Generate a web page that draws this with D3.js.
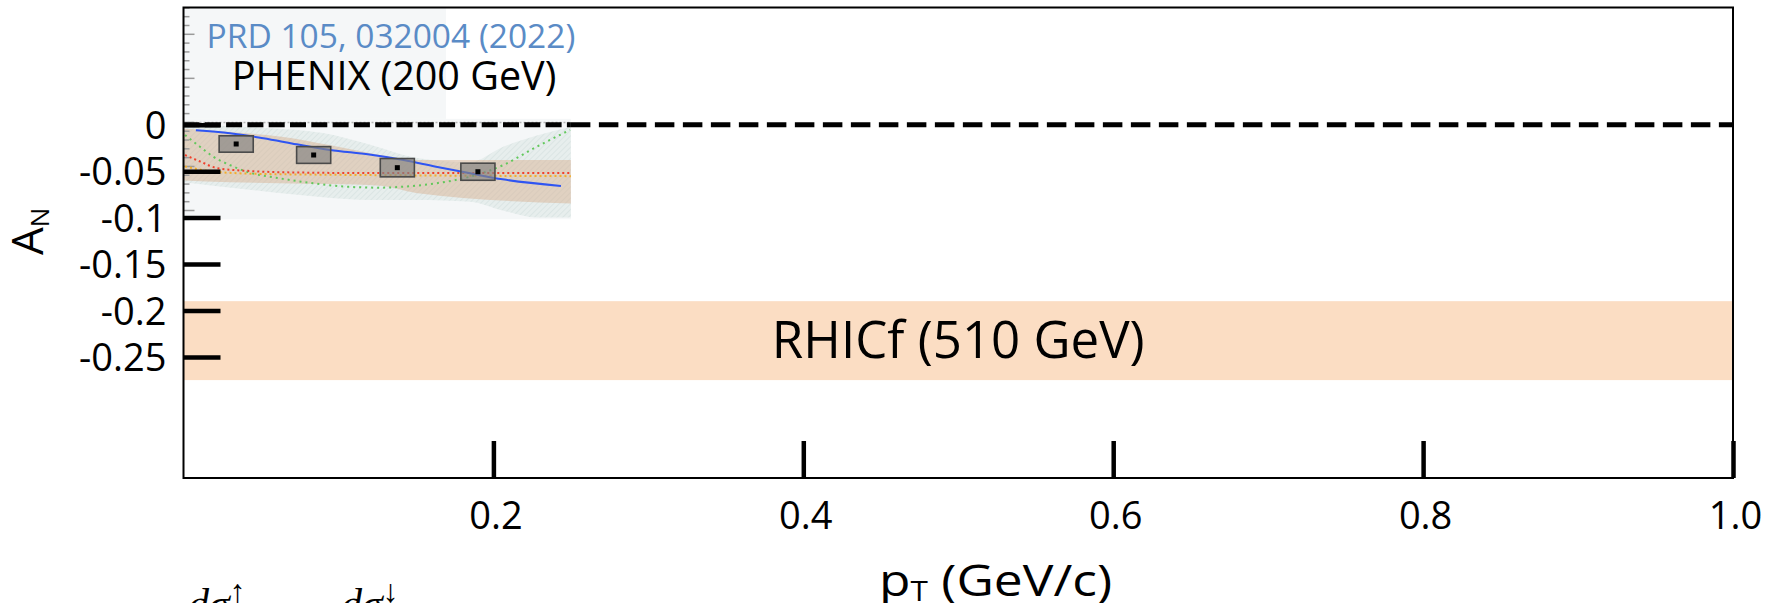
<!DOCTYPE html>
<html>
<head>
<meta charset="utf-8">
<script src="https://cdn.jsdelivr.net/npm/d3@7"></script>
<style>
  html, body { margin: 0; padding: 0; background: #fff; }
  svg { display: block; font-family: "Open Sans", "Noto Sans", sans-serif; }
</style>
</head>
<body>
<svg id="chart" width="1779" height="603"></svg>
<script>
// ---- axis ticks ----
const yTickValues = [0, -0.05, -0.1, -0.15, -0.2, -0.25];
const yTickLabels = ["0", "-0.05", "-0.1", "-0.15", "-0.2", "-0.25"];
const xTickValues = [0.2, 0.4, 0.6, 0.8, 1.0];
const xTickLabels = ["0.2", "0.4", "0.6", "0.8", "1.0"];

// ---- RHICf 510 GeV expected range ----
const rhicfLow = -0.275;
const rhicfHigh = -0.19;

// ---- PHENIX 200 GeV neutron A_N (PRD 105, 032004) ----
const phenixPt = [0.034, 0.084, 0.138, 0.190];
const phenixAN = [-0.0245, -0.037, -0.0514, -0.056];
const phenixSysPt = [0.011, 0.011, 0.011, 0.011];
const phenixSysAN = [0.0093, 0.0095, 0.0104, 0.0097];

// model curves
const blueCurvePt = [0.008, 0.030, 0.0515, 0.073, 0.0945, 0.120, 0.142, 0.163, 0.185, 0.206, 0.2436];
const blueCurveAN = [-0.009, -0.0124, -0.018, -0.0249, -0.0313, -0.0365, -0.0427, -0.0503, -0.0578, -0.0646, -0.0722];
const redCurvePt = [0.001, 0.011, 0.022, 0.043, 0.07, 0.12, 0.25];
const redCurveAN = [-0.037, -0.0446, -0.052, -0.0552, -0.0568, -0.0575, -0.0575];
const orangeCurvePt = [0.001, 0.02, 0.05, 0.1, 0.25];
const orangeCurveAN = [-0.05, -0.056, -0.0585, -0.0595, -0.061];
const greenCurvePt = [0.001, 0.0106, 0.0192, 0.030, 0.0408, 0.0623, 0.0838, 0.1053, 0.1268, 0.1419, 0.1634, 0.1849, 0.2064, 0.228, 0.2494];
const greenCurveAN = [-0.0143, -0.0276, -0.039, -0.0484, -0.056, -0.0635, -0.0691, -0.073, -0.0741, -0.073, -0.069, -0.0616, -0.0484, -0.0276, -0.0086];

// uncertainty bands
const tanBandPt = [0, 0.03, 0.062, 0.095, 0.127, 0.15, 0.25];
const tanBandHigh = [-0.007, -0.011, -0.016, -0.026, -0.037, -0.0427, -0.0427];
const tanBandLow = [-0.066, -0.068, -0.069, -0.070, -0.072, -0.080, -0.092];
const tealBandPt = [0, 0.05, 0.09, 0.12, 0.15, 0.185, 0.206, 0.228, 0.25];
const tealBandHigh = [-0.003, -0.006, -0.012, -0.025, -0.040, -0.045, -0.028, -0.015, -0.005];
const tealBandLow = [-0.068, -0.078, -0.085, -0.088, -0.088, -0.090, -0.100, -0.108, -0.108];

// ---- layout ----
const svg = d3.select("#chart");
const margin = { left: 183.5, top: 7.5, right: 46, bottom: 125 };
const W = 1779 - margin.left - margin.right;
const H = 603 - margin.top - margin.bottom;
const g = svg.append("g").attr("transform", `translate(${margin.left},${margin.top})`);

const x = d3.scaleLinear().domain([0, 1.0]).range([0, W]);
const y = d3.scaleLinear().domain([-0.3804, 0.1262]).range([H, 0]);
// the PHENIX panel carries its own vertical scale
const yIn = d3.scaleLinear().domain([-0.1, 0.1]).range([203, 26.8]);

// RHICf band
g.append("rect")
  .attr("x", x(0)).attr("width", x(1.0) - x(0))
  .attr("y", y(rhicfHigh)).attr("height", y(rhicfLow) - y(rhicfHigh))
  .attr("fill", "#fbddc3");
g.append("text")
  .attr("x", x(0.5)).attr("y", (y(rhicfHigh) + y(rhicfLow)) / 2)
  .attr("dy", "0.34em")
  .attr("text-anchor", "middle")
  .attr("font-size", 51)
  .attr("fill", "#000")
  .text("RHICf (510 GeV)");

// ---- PHENIX panel ----
const panel = g.append("g");
panel.append("rect")
  .attr("x", x(0)).attr("y", 0)
  .attr("width", x(0.1694) - x(0)).attr("height", yIn(0.004))
  .attr("fill", "#f5f7f8");
panel.append("rect")
  .attr("x", x(0)).attr("y", yIn(0.004))
  .attr("width", x(0.25) - x(0)).attr("height", yIn(-0.11) - yIn(0.004))
  .attr("fill", "#f5f7f8");

const defs = svg.append("defs");
const hatch = defs.append("pattern")
  .attr("id", "hatch").attr("patternUnits", "userSpaceOnUse")
  .attr("width", 4).attr("height", 4)
  .attr("patternTransform", "rotate(45)");
hatch.append("rect").attr("width", 4).attr("height", 4).attr("fill", "#e7eeed");
hatch.append("line").attr("x1", 0).attr("y1", 0).attr("x2", 0).attr("y2", 4)
  .attr("stroke", "#d8e2e1").attr("stroke-width", 1.5);

const bandArea = d3.area().curve(d3.curveMonotoneX)
  .x(d => x(d.pt)).y0(d => yIn(d.lo)).y1(d => yIn(d.hi));

panel.append("path")
  .datum(tealBandPt.map((pt, i) => ({ pt, hi: tealBandHigh[i], lo: tealBandLow[i] })))
  .attr("d", bandArea)
  .attr("fill", "url(#hatch)");
panel.append("path")
  .datum(tanBandPt.map((pt, i) => ({ pt, hi: tanBandHigh[i], lo: tanBandLow[i] })))
  .attr("d", bandArea)
  .attr("fill", "#d6ae8c").attr("fill-opacity", 0.45);

// inset vertical axis ticks (gray)
const insetTicks = d3.range(-11, 14).map(v => v / 100);
panel.selectAll("line.minor").data(insetTicks).join("line")
  .attr("class", "minor")
  .attr("x1", 0)
  .attr("x2", d => (Math.round(d * 100) % 5 === 0 ? 11 : 6))
  .attr("y1", d => yIn(d)).attr("y2", d => yIn(d))
  .attr("stroke", "#9a9a9a").attr("stroke-width", 1.5);

// inset zero line (gray dotted)
panel.append("line")
  .attr("x1", x(0)).attr("x2", x(0.25))
  .attr("y1", yIn(0)).attr("y2", yIn(0))
  .attr("stroke", "#b5b5b5").attr("stroke-width", 1.5)
  .attr("stroke-dasharray", "2,2");

const curve = d3.line().curve(d3.curveMonotoneX).x(d => x(d[0])).y(d => yIn(d[1]));
function drawCurve(pts, ans, color, dash, width) {
  panel.append("path")
    .datum(pts.map((p, i) => [p, ans[i]]))
    .attr("d", curve)
    .attr("fill", "none")
    .attr("stroke", color)
    .attr("stroke-width", width)
    .attr("stroke-dasharray", dash);
}
drawCurve(greenCurvePt, greenCurveAN, "#62c85c", "2,4", 2);
drawCurve(orangeCurvePt, orangeCurveAN, "#f3ae2a", "2,3", 2);
drawCurve(redCurvePt, redCurveAN, "#f0402c", "2,3", 2);
drawCurve(blueCurvePt, blueCurveAN, "#2f55f2", null, 2);

// systematic boxes and points
const pts = phenixPt.map((pt, i) => ({ pt, an: phenixAN[i], sx: phenixSysPt[i], sy: phenixSysAN[i] }));
panel.selectAll("rect.sys").data(pts).join("rect")
  .attr("class", "sys")
  .attr("x", d => x(d.pt - d.sx))
  .attr("width", d => x(d.pt + d.sx) - x(d.pt - d.sx))
  .attr("y", d => yIn(d.an + d.sy))
  .attr("height", d => yIn(d.an - d.sy) - yIn(d.an + d.sy))
  .attr("fill", "#858381").attr("fill-opacity", 0.68)
  .attr("stroke", "#4a4a4a").attr("stroke-width", 1.6);
panel.selectAll("rect.pt").data(pts).join("rect")
  .attr("class", "pt")
  .attr("x", d => x(d.pt) - 2.5).attr("y", d => yIn(d.an) - 2.5)
  .attr("width", 5).attr("height", 5)
  .attr("fill", "#000");

// inset texts
panel.append("text")
  .attr("x", x(0.0149)).attr("y", yIn(0.0843))
  .attr("font-size", 33.5).attr("fill", "#5a8bc6")
  .text("PRD 105, 032004 (2022)");
panel.append("text")
  .attr("x", x(0.0312)).attr("y", yIn(0.037))
  .attr("font-size", 39.5).attr("fill", "#000")
  .text("PHENIX (200 GeV)");

// ---- zero reference line ----
g.append("line")
  .attr("x1", x(0)).attr("x2", x(0.25))
  .attr("y1", y(0)).attr("y2", y(0))
  .attr("stroke", "#000").attr("stroke-width", 5)
  .attr("stroke-dasharray", "16,5.3");
g.append("line")
  .attr("x1", x(0.25)).attr("x2", x(1.0))
  .attr("y1", y(0)).attr("y2", y(0))
  .attr("stroke", "#000").attr("stroke-width", 5)
  .attr("stroke-dasharray", "19.5,8.5");

// ---- axes ----
const yAxis = d3.axisLeft(y)
  .tickValues(yTickValues)
  .tickFormat((d, i) => yTickLabels[i])
  .tickSize(-37).tickPadding(17);
const yg = g.append("g").call(yAxis);
yg.select(".domain").remove();
yg.selectAll(".tick line").attr("stroke", "#000").attr("stroke-width", 4.5);
yg.selectAll(".tick text")
  .attr("font-size", 38).attr("font-family", "Open Sans, sans-serif")
  .attr("fill", "#000").attr("dy", "0.36em");

const xAxis = d3.axisBottom(x)
  .tickValues(xTickValues)
  .tickFormat((d, i) => xTickLabels[i])
  .tickSize(-37).tickPadding(24);
const xg = g.append("g").attr("transform", `translate(0,${H})`).call(xAxis);
xg.select(".domain").remove();
xg.selectAll(".tick line").attr("stroke", "#000").attr("stroke-width", 4.5);
xg.selectAll(".tick text")
  .attr("font-size", 38).attr("font-family", "Open Sans, sans-serif")
  .attr("fill", "#000").attr("dx", 2);

// frame
g.append("rect")
  .attr("x", 0).attr("y", 0).attr("width", W).attr("height", H)
  .attr("fill", "none").attr("stroke", "#000").attr("stroke-width", 2);

// axis titles
const xt = svg.append("text")
  .attr("transform", "translate(879,596) scale(1.17,1)")
  .attr("font-size", 44).attr("fill", "#000");
xt.append("tspan").text("p");
xt.append("tspan").attr("font-size", 27).attr("dy", 5).text("T");
xt.append("tspan").attr("dy", -5).text(" (GeV/c)");

const yt = svg.append("text")
  .attr("transform", "translate(43,255) rotate(-90)")
  .attr("font-size", 44).attr("fill", "#000");
yt.append("tspan").text("A");
yt.append("tspan").attr("font-size", 26).attr("dy", 6).text("N");

// numerator of the A_N definition, running off the lower edge
function numeratorTerm(xPos, arrow) {
  const t = svg.append("text")
    .attr("x", xPos).attr("y", 618)
    .attr("font-family", "Liberation Serif, DejaVu Serif, serif")
    .attr("font-size", 42).attr("fill", "#000");
  t.append("tspan").attr("font-style", "italic").text("dσ");
  t.append("tspan").attr("font-size", 32).attr("dy", -16).text(arrow);
}
numeratorTerm(188, "↑");
numeratorTerm(341, "↓");
</script>
</body>
</html>
